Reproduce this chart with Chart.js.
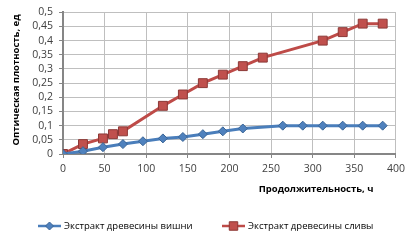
<!DOCTYPE html>
<html><head><meta charset="utf-8">
<script src="https://cdn.jsdelivr.net/npm/chart.js@4"></script>
<style>html,body{margin:0;padding:0;background:#fff}#wrap{width:410px;height:242px}</style>
</head><body><div id="wrap"><canvas id="c" width="410" height="242"></canvas></div>
<script>
const seriesNames = ["Экстракт древесины вишни", "Экстракт древесины сливы"];
const cherryHours = [0, 24, 48, 72, 96, 120, 144, 168, 192, 216, 264, 288, 312, 336, 360, 384];
const cherryValues = [0, 0.01, 0.024, 0.035, 0.045, 0.055, 0.06, 0.07, 0.08, 0.09, 0.1, 0.1, 0.1, 0.1, 0.1, 0.1];
const plumHours = [0, 24, 48, 60, 72, 120, 144, 168, 192, 216, 240, 312, 336, 360, 384];
const plumValues = [0, 0.035, 0.055, 0.07, 0.08, 0.17, 0.21, 0.25, 0.28, 0.31, 0.34, 0.40, 0.43, 0.46, 0.46];
const xTitle = "Продолжительность, ч";
const yTitle = "Оптическая плотность, ед";

const FONT = "'Open Sans', 'Liberation Sans', sans-serif";
const BLUE = '#4A7EBB', BLUE_F = '#4F81BD', BLUE_B = '#3A6596';
const RED = '#BE4B48', RED_F = '#C0504D', RED_B = '#8C3836';

function pts(xs, ys){ return xs.map((x,i)=>({x:x, y:ys[i]})); }

const extras = {
  id: 'extras',
  afterDraw(chart){
    const ctx = chart.ctx, a = chart.chartArea;
    ctx.save();
    ctx.fillStyle = '#000';
    ctx.font = "bold 9.5px " + FONT;
    ctx.textAlign = 'center'; ctx.textBaseline = 'middle';
    ctx.fillText(xTitle, a.left + (a.right - a.left) * 0.76, 189);
    ctx.translate(16, 80);
    ctx.rotate(-Math.PI/2);
    ctx.fillText(yTitle, 0, 0);
    ctx.restore();
    // legend
    ctx.save();
    ctx.font = "9.5px " + FONT;
    ctx.textBaseline = 'middle'; ctx.textAlign = 'left';
    const items = [
      {x: 38, name: seriesNames[0], line: BLUE, fill: BLUE_F, border: BLUE_B, style: 'rectRot', r: 4},
      {x: 222, name: seriesNames[1], line: RED, fill: RED_F, border: RED_B, style: 'rect', r: 6}
    ];
    const ly = 226;
    items.forEach(it => {
      ctx.strokeStyle = it.line; ctx.lineWidth = 2.5;
      ctx.beginPath(); ctx.moveTo(it.x, ly); ctx.lineTo(it.x + 23, ly); ctx.stroke();
      ctx.fillStyle = it.fill; ctx.strokeStyle = it.border; ctx.lineWidth = 1;
      Chart.helpers.drawPoint(ctx, {pointStyle: it.style, radius: it.r, borderWidth: 1}, it.x + 11.5, ly);
      ctx.fillStyle = '#000';
      ctx.fillText(it.name, it.x + 26, ly);
    });
    ctx.restore();
  }
};

new Chart(document.getElementById('c'), {
  type: 'line',
  data: {
    datasets: [
      { label: seriesNames[0], data: pts(cherryHours, cherryValues), borderColor: BLUE, borderWidth: 3,
        pointStyle: 'rectRot', pointRadius: 4.5, pointBackgroundColor: BLUE_F, pointBorderColor: BLUE_B, pointBorderWidth: 1, tension: 0 },
      { label: seriesNames[1], data: pts(plumHours, plumValues), borderColor: RED, borderWidth: 3,
        pointStyle: 'rect', pointRadius: 6.3, pointBackgroundColor: RED_F, pointBorderColor: RED_B, pointBorderWidth: 1, tension: 0 }
    ]
  },
  options: {
    responsive: false, animation: false,
    layout: { padding: { top: 5, right: 13, left: 0, bottom: 0 } },
    plugins: { legend: { display: false }, tooltip: { enabled: false } },
    scales: {
      x: {
        type: 'linear', min: 0, max: 400,
        ticks: { stepSize: 50, color: '#404040', font: { family: FONT, size: 10.5 }, padding: 5, maxRotation: 0, autoSkip: false },
        grid: { color: '#BFBFBF', tickLength: 4, tickColor: '#868686' },
        border: { color: '#868686', width: 2 },
        afterFit(s){ s.height = 88; }
      },
      y: {
        min: 0, max: 0.5,
        ticks: { stepSize: 0.05, color: '#404040', font: { family: FONT, size: 10.5 }, padding: 6, autoSkip: false,
          callback: v => (Math.round(v*100)/100).toString().replace('.', ',') },
        grid: { color: '#BFBFBF', tickLength: 4, tickColor: '#868686' },
        border: { color: '#868686', width: 2 },
        afterFit(s){ s.width = 63; }
      }
    }
  },
  plugins: [extras]
});
</script></body></html>
